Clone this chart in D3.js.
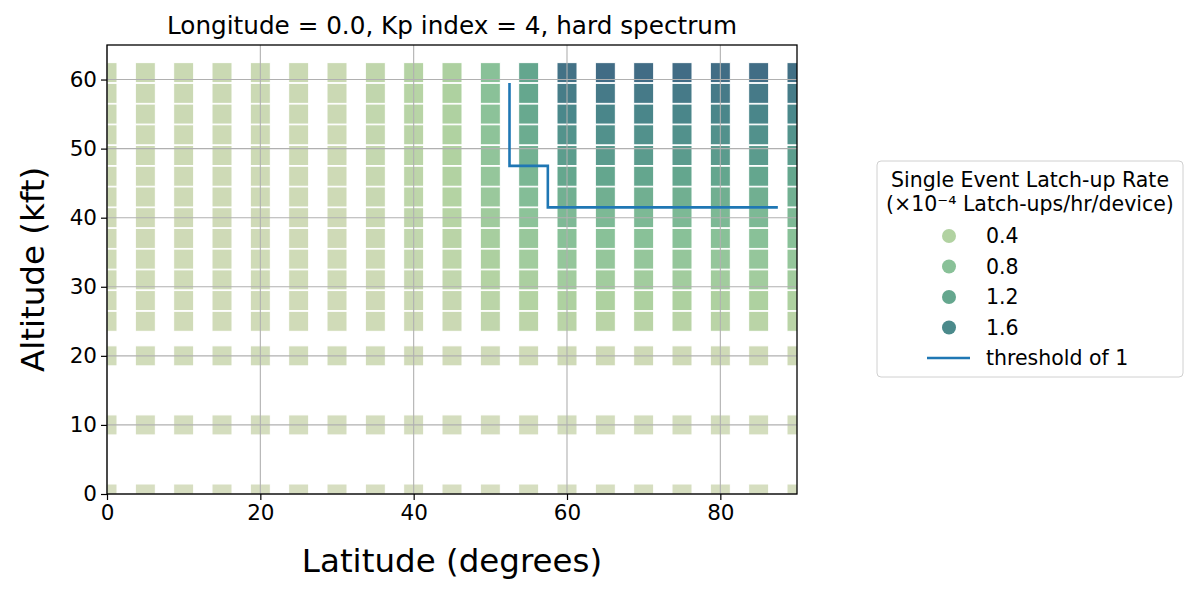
<!DOCTYPE html>
<html>
<head>
<meta charset="utf-8">
<script src="https://cdn.jsdelivr.net/npm/d3@7"></script>
<style>
  body { margin: 0; background: #fff; }
  svg { display: block; font-family: "DejaVu Sans", sans-serif; }
</style>
</head>
<body>
<div id="chart"></div>
<script>
// latitudes (degrees) and altitudes (kft) of the grid
const latitudes = [0, 5, 10, 15, 20, 25, 30, 35, 40, 45, 50, 55, 60, 65, 70, 75, 80, 85, 90];
const altitudes = [0, 10, 20, 25, 28, 31, 34, 37, 40, 43, 46, 49, 52, 55, 58, 61];

// latch-up rate per latitude column, one value per altitude (x1e-4)
const ratePale = [0.03, 0.08, 0.14, 0.17, 0.17, 0.18, 0.18, 0.19, 0.19, 0.2, 0.2, 0.21, 0.21, 0.22, 0.22, 0.23];
const rates = [
    ratePale, ratePale, ratePale, ratePale, ratePale, ratePale, ratePale,
    [0.03, 0.08, 0.14, 0.18, 0.19, 0.2, 0.21, 0.22, 0.23, 0.24, 0.25, 0.26, 0.27, 0.28, 0.29, 0.3],
    [0.03, 0.08, 0.15, 0.2, 0.22, 0.24, 0.26, 0.28, 0.3, 0.31, 0.32, 0.33, 0.34, 0.35, 0.36, 0.37],
    [0.03, 0.08, 0.15, 0.22, 0.25, 0.28, 0.31, 0.34, 0.36, 0.38, 0.39, 0.4, 0.41, 0.42, 0.43, 0.44],
    [0.03, 0.08, 0.16, 0.29, 0.33, 0.38, 0.44, 0.5, 0.57, 0.63, 0.68, 0.72, 0.75, 0.77, 0.79, 0.8],
    [0.04, 0.09, 0.17, 0.32, 0.38, 0.46, 0.55, 0.65, 0.76, 0.86, 0.96, 1.05, 1.12, 1.17, 1.2, 1.22],
    [0.04, 0.1, 0.19, 0.34, 0.43, 0.55, 0.68, 0.8, 0.92, 1.06, 1.2, 1.34, 1.48, 1.62, 1.76, 1.9],
    [0.04, 0.1, 0.19, 0.34, 0.43, 0.55, 0.68, 0.8, 0.93, 1.07, 1.21, 1.36, 1.5, 1.65, 1.8, 1.97],
    [0.04, 0.1, 0.19, 0.34, 0.43, 0.55, 0.68, 0.8, 0.93, 1.07, 1.21, 1.36, 1.5, 1.65, 1.8, 1.97],
    [0.04, 0.1, 0.19, 0.34, 0.43, 0.55, 0.68, 0.8, 0.93, 1.07, 1.21, 1.36, 1.5, 1.65, 1.8, 1.97],
    [0.04, 0.1, 0.19, 0.34, 0.43, 0.55, 0.68, 0.8, 0.93, 1.07, 1.21, 1.36, 1.5, 1.65, 1.8, 1.96],
    [0.04, 0.1, 0.19, 0.34, 0.43, 0.55, 0.68, 0.8, 0.93, 1.07, 1.21, 1.36, 1.5, 1.65, 1.8, 1.96],
    [0.04, 0.1, 0.19, 0.34, 0.43, 0.55, 0.68, 0.8, 0.92, 1.06, 1.2, 1.34, 1.48, 1.62, 1.77, 1.93]
];

// threshold-of-1 contour
const threshLat = [52.5, 52.5, 57.5, 57.5, 87.5];
const threshAlt = [59.5, 47.5, 47.5, 41.5, 41.5];

const legendValues = [0.4, 0.8, 1.2, 1.6];
const xTicks = [0, 20, 40, 60, 80];
const yTicks = [0, 10, 20, 30, 40, 50, 60];

const W = 1196, H = 592;
const m = { left: 107, right: 797, top: 45, bottom: 494 };

const svg = d3.select("#chart").append("svg")
    .attr("width", W).attr("height", H);

const x = d3.scaleLinear().domain([0, 90]).range([m.left, m.right]);
const y = d3.scaleLinear().domain([0, 65]).range([m.bottom, m.top]);

const colour = d3.scaleLinear()
    .domain([0, 0.2, 0.4, 0.8, 1.2, 1.6, 2.0])
    .range(["#d8dfc3", "#cedab6", "#b1d2a1", "#89c198", "#65a78e", "#4b8a8b", "#406a84"]);

svg.append("defs").append("clipPath").attr("id", "clip")
    .append("rect")
    .attr("x", m.left).attr("y", m.top)
    .attr("width", m.right - m.left).attr("height", m.bottom - m.top);

// cells
let cells = [];
latitudes.forEach((lat, i) => {
    altitudes.forEach((alt, j) => {
        cells.push({ lat: lat, alt: alt, v: rates[i][j] });
    });
});

const side = 20;
svg.append("g").attr("clip-path", "url(#clip)")
    .selectAll("rect")
    .data(cells)
    .enter()
    .append("rect")
    .attr("x", d => x(d.lat) - side / 2)
    .attr("y", d => y(d.alt) - side / 2)
    .attr("width", side)
    .attr("height", side)
    .attr("fill", d => colour(d.v))
    .attr("stroke", "#fff")
    .attr("stroke-width", 1);

// grid
const grid = svg.append("g").attr("stroke", "#b0b0b0").attr("stroke-width", 1.1);
grid.selectAll(".gx").data(xTicks).enter().append("line")
    .attr("x1", d => x(d)).attr("x2", d => x(d))
    .attr("y1", m.top).attr("y2", m.bottom);
grid.selectAll(".gy").data(yTicks).enter().append("line")
    .attr("x1", m.left).attr("x2", m.right)
    .attr("y1", d => y(d)).attr("y2", d => y(d));

// threshold line
const thresh = threshLat.map((lat, i) => [lat, threshAlt[i]]);
svg.append("path")
    .datum(thresh)
    .attr("fill", "none")
    .attr("stroke", "#1f77b4")
    .attr("stroke-width", 2.6)
    .attr("d", d3.line().x(d => x(d[0])).y(d => y(d[1])));

// axes
const xAxis = svg.append("g")
    .attr("transform", `translate(0,${m.bottom})`)
    .call(d3.axisBottom(x).tickValues(xTicks).tickSize(6).tickPadding(5));
const yAxis = svg.append("g")
    .attr("transform", `translate(${m.left},0)`)
    .call(d3.axisLeft(y).tickValues(yTicks).tickSize(6).tickPadding(4));
[xAxis, yAxis].forEach(a => {
    a.select(".domain").remove();
    a.selectAll("line").attr("stroke", "#000").attr("stroke-width", 1.2);
    a.selectAll("text").attr("font-size", "21.5px").attr("fill", "#000")
        .attr("font-family", "DejaVu Sans");
});

svg.append("rect")
    .attr("x", m.left).attr("y", m.top)
    .attr("width", m.right - m.left).attr("height", m.bottom - m.top)
    .attr("fill", "none").attr("stroke", "#000").attr("stroke-width", 1.3);

// titles
svg.append("text")
    .attr("x", (m.left + m.right) / 2).attr("y", 34)
    .attr("text-anchor", "middle").attr("font-size", "24.7px")
    .text("Longitude = 0.0, Kp index = 4, hard spectrum");

svg.append("text")
    .attr("x", (m.left + m.right) / 2).attr("y", 572)
    .attr("text-anchor", "middle").attr("font-size", "32.5px")
    .text("Latitude (degrees)");

svg.append("text")
    .attr("transform", `translate(44,${(m.top + m.bottom) / 2}) rotate(-90)`)
    .attr("text-anchor", "middle").attr("font-size", "32.5px")
    .text("Altitude (kft)");

// legend
const lg = svg.append("g");
lg.append("rect")
    .attr("x", 877).attr("y", 161).attr("width", 306).attr("height", 216)
    .attr("rx", 4).attr("fill", "#fff")
    .attr("stroke", "#d0d0d0").attr("stroke-width", 1);
lg.append("text").attr("x", 1030).attr("y", 187)
    .attr("text-anchor", "middle").attr("font-size", "20.5px")
    .text("Single Event Latch-up Rate");
lg.append("text").attr("x", 1030).attr("y", 211)
    .attr("text-anchor", "middle").attr("font-size", "20.5px")
    .text("(×10⁻⁴ Latch-ups/hr/device)");

legendValues.forEach((v, i) => {
    const cy = 236 + i * 30.5;
    lg.append("circle").attr("cx", 949).attr("cy", cy).attr("r", 7)
        .attr("fill", colour(v));
    lg.append("text").attr("x", 986).attr("y", cy + 7)
        .attr("font-size", "20.5px").text(v.toFixed(1));
});
lg.append("line")
    .attr("x1", 927).attr("x2", 970).attr("y1", 358).attr("y2", 358)
    .attr("stroke", "#1f77b4").attr("stroke-width", 2.6);
lg.append("text").attr("x", 986).attr("y", 365)
    .attr("font-size", "20.5px").text("threshold of 1");
</script>
</body>
</html>
